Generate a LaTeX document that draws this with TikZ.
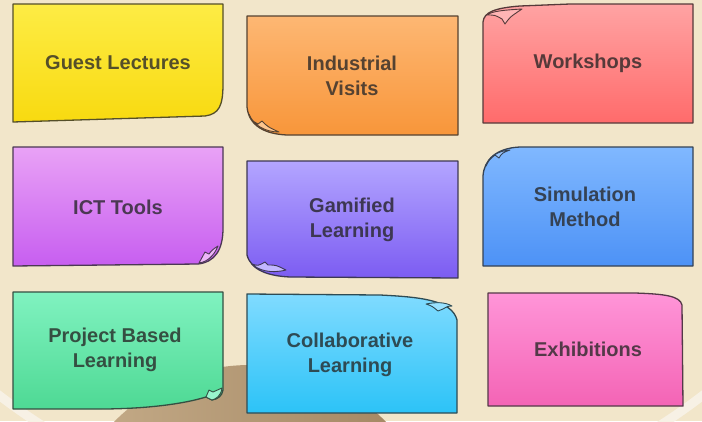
\documentclass[tikz,border=0pt]{standalone}
\usepackage{fontspec}
\setmainfont{Liberation Sans}
\newfontfamily\notefont{Liberation Sans}[BoldFont={* Bold}]
\definecolor{bgc}{HTML}{F2E6CA}
\definecolor{ringc}{HTML}{F7F1E5}
\definecolor{domeL}{HTML}{C7AE8B}
\definecolor{domeR}{HTML}{A0835F}
\definecolor{yT}{HTML}{FDEC45}\definecolor{yB}{HTML}{F8DA10}
\definecolor{oT}{HTML}{FDB773}\definecolor{oB}{HTML}{F8963A}
\definecolor{rT}{HTML}{FFA3A3}\definecolor{rB}{HTML}{FF6B6B}
\definecolor{pT}{HTML}{E9A2F6}\definecolor{pB}{HTML}{C75EF0}
\definecolor{vT}{HTML}{B3A5FF}\definecolor{vB}{HTML}{7C5CF2}
\definecolor{bT}{HTML}{80B8FF}\definecolor{bB}{HTML}{4D92F6}
\definecolor{gT}{HTML}{80F2C0}\definecolor{gB}{HTML}{4ED994}
\definecolor{cT}{HTML}{80DBFF}\definecolor{cB}{HTML}{2CC3F7}
\definecolor{kT}{HTML}{FF95D8}\definecolor{kB}{HTML}{F464B5}
\tikzset{
  note/.style={line width=1.3pt, line join=round},
  flapline/.style={line width=0.9pt, line join=round},
  notetext/.style={font=\notefont\bfseries\fontsize{20}{25}\selectfont, align=center, inner sep=0pt},
}
\begin{document}
\begin{tikzpicture}[x=1pt,y=-1pt]
\useasboundingbox (0,0) rectangle (702,421);
\fill[bgc] (0,0) rectangle (702,421);
\begin{scope}
\clip (0,0) rectangle (702,421);
\draw[ringc, line width=9pt] (351,-62) circle (577);
\shade[left color=domeL, right color=domeR] (250,556) circle (191);
\end{scope}

% 1 Guest Lectures (curl bottom-right)
\path[note, top color=yT, bottom color=yB, draw=yB!22!black!85!white]
  (13,4) -- (223,4) -- (223,84) .. controls (223,106) and (219,114) .. (205,116) -- (13,122) -- cycle;
\node[notetext, text=yB!22!black!85!white] (n1) at (118,63) {Guest Lectures};

% 2 Industrial Visits (curl bottom-left)
\path[note, top color=oT, bottom color=oB, draw=oB!22!black!85!white]
  (247,16) -- (458,16) -- (458,135) -- (287,135) .. controls (265,134) and (249,126) .. (247,107) -- cycle;
\path[flapline, fill=oT!80!white, draw=oB!22!black!85!white]
  (249,114) .. controls (251,120) .. (258,124) -- (262,121) .. controls (268,127) .. (279,132)
  .. controls (265,132) and (253,125) .. (249,114) -- cycle;
\node[notetext, text=oB!22!black!85!white] (n2) at (352,76) {Industrial\\Visits};

% 3 Workshops (curl top-left)
\path[note, top color=rT, bottom color=rB, draw=rB!22!black!85!white]
  (483,123) -- (483,22) .. controls (484,12) and (495,8) .. (520,6) -- (570,4) -- (693,4) -- (693,123) -- cycle;
\path[flapline, fill=rT!80!white, draw=rB!22!black!85!white]
  (487,15) .. controls (495,15) .. (502,19) -- (505,24) .. controls (510,17) .. (522,9)
  .. controls (505,10) and (492,11) .. (487,15) -- cycle;
\node[notetext, text=rB!22!black!85!white] (n3) at (588,63) {Workshops};

% 4 ICT Tools (curl bottom-right)
\path[note, top color=pT, bottom color=pB, draw=pB!22!black!85!white]
  (13,147) -- (223,147) -- (223,228) .. controls (223,250) and (215,262) .. (198,264) -- (13,266) -- cycle;
\path[flapline, fill=pT!80!white, draw=pB!22!black!85!white]
  (199,263) .. controls (202,257) .. (205,252) -- (209,254) .. controls (212,250) .. (218,246)
  .. controls (214,256) and (207,262) .. (199,263) -- cycle;
\node[notetext, text=pB!22!black!85!white] (n4) at (118,207) {ICT Tools};

% 5 Gamified Learning (curl bottom-left)
\path[note, top color=vT, bottom color=vB, draw=vB!22!black!85!white]
  (247,161) -- (458,161) -- (458,278) -- (290,277) .. controls (268,276) and (251,270) .. (247,255) -- cycle;
\path[flapline, fill=vT!80!white, draw=vB!22!black!85!white]
  (252,264) .. controls (258,266) .. (265,262) -- (268,265) .. controls (276,265) .. (286,270)
  .. controls (270,274) and (258,270) .. (252,264) -- cycle;
\node[notetext, text=vB!22!black!85!white] (n5) at (352,220) {Gamified\\Learning};

% 6 Simulation Method (curl top-left)
\path[note, top color=bT, bottom color=bB, draw=bB!22!black!85!white]
  (483,266) -- (483,176) .. controls (484,160) and (496,148) .. (520,147) -- (693,147) -- (693,266) -- cycle;
\path[flapline, fill=bT!80!white, draw=bB!22!black!85!white]
  (486,166) .. controls (489,160) .. (495,155) -- (499,158) .. controls (502,153) .. (510,150)
  .. controls (497,151) and (489,157) .. (486,166) -- cycle;
\node[notetext, text=bB!22!black!85!white] (n6) at (585,207) {Simulation\\Method};

% 7 Project Based Learning (curl bottom-right)
\path[note, top color=gT, bottom color=gB, draw=gB!22!black!85!white]
  (13,292) -- (223,292) -- (223,390) .. controls (222,396) and (218,399) .. (212,400)
  -- (206,397) .. controls (180,405) and (140,409) .. (100,409) -- (13,409) -- cycle;
\path[flapline, fill=gT!80!white, draw=gB!22!black!85!white]
  (206,397) .. controls (207,393) .. (209,390) -- (213,392) .. controls (217,390) .. (222,388)
  .. controls (221,396) and (216,399) .. (212,400) -- cycle;
\node[notetext, text=gB!22!black!85!white] (n7) at (115,350) {Project Based\\Learning};

% 8 Collaborative Learning (curl top-right)
\path[note, top color=cT, bottom color=cB, draw=cB!22!black!85!white]
  (247,294) -- (380,295) .. controls (420,297) and (452,300) .. (457,320) -- (457,413) -- (247,413) -- cycle;
\path[flapline, fill=cT!80!white, draw=cB!22!black!85!white]
  (426,304) .. controls (432,306) .. (438,311) -- (443,309) .. controls (448,306) .. (452,306)
  .. controls (445,302) and (436,302) .. (426,304) -- cycle;
\node[notetext, text=cB!22!black!85!white] (n8) at (350,355) {Collaborative\\Learning};

% 9 Exhibitions (rounded top-right)
\path[note, top color=kT, bottom color=kB, draw=kB!22!black!85!white]
  (488,293) -- (635,293) .. controls (665,294) and (680,296) .. (682,305) -- (683,406) -- (488,406) -- cycle;
\node[notetext, text=kB!22!black!85!white] (n9) at (588,349) {Exhibitions};
\end{tikzpicture}
\end{document}
